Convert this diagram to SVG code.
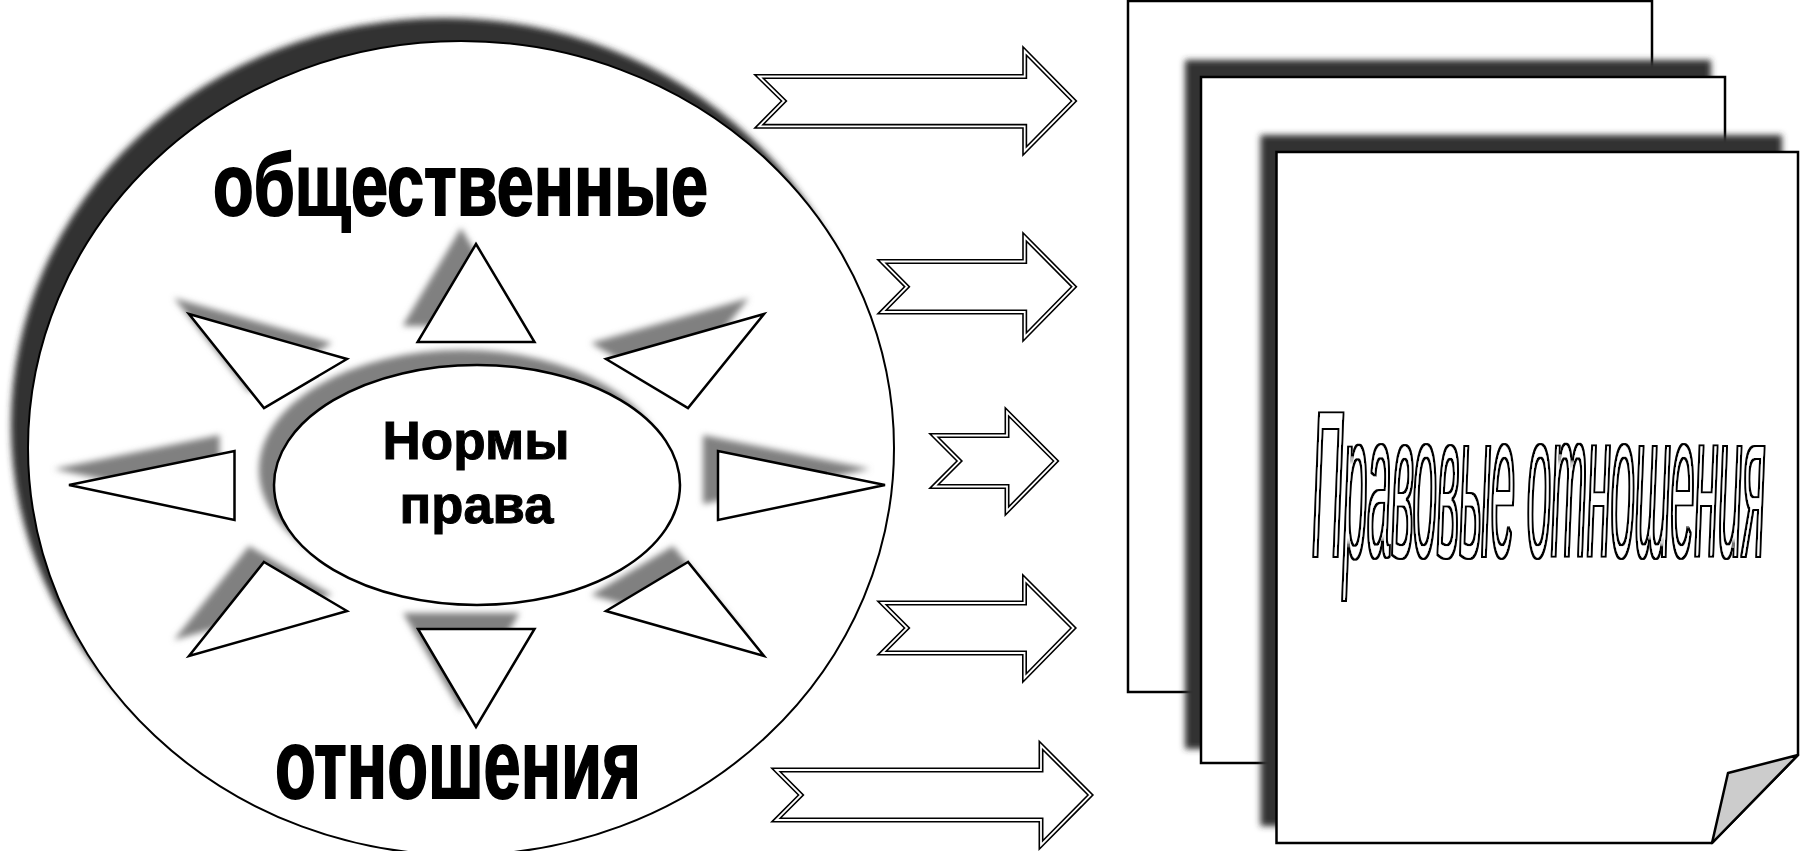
<svg xmlns="http://www.w3.org/2000/svg" width="1806" height="851" viewBox="0 0 1806 851">
<style>
.s{fill:#fff;stroke:#000;stroke-width:2.5}
.t{font-family:"Liberation Sans",Arial,sans-serif;font-weight:700;fill:#000;stroke:#000;text-anchor:middle}
.ao{fill:#fff;stroke:#000;stroke-width:5;stroke-miterlimit:10}
.ai{fill:none;stroke:#fff;stroke-width:1.8;stroke-miterlimit:10}
</style>
<defs>
<filter id="b" x="-20%" y="-20%" width="140%" height="140%"><feGaussianBlur stdDeviation="3"/></filter>
<filter id="o" filterUnits="userSpaceOnUse" x="1290" y="390" width="500" height="225">
<feMorphology in="SourceAlpha" operator="dilate" radius="1" result="d"/>
<feMorphology in="SourceGraphic" operator="erode" radius="1" result="e"/>
<feMerge><feMergeNode in="d"/><feMergeNode in="e"/></feMerge>
</filter>
<polygon id="a1" points="759,76.5 784,101 759,126.3 1024.7,126.3 1024.7,151 1074,101 1024.7,51 1024.7,76.5"/>
<polygon id="a2" points="882,261.5 907,286.7 882,312 1024.7,312 1024.7,337 1074,286.7 1024.7,237 1024.7,261.5"/>
<polygon id="a3" points="934,435.5 959.500,461 934,486.500 1007,486.500 1007,511 1056,461 1007,412 1007,435.5"/>
<polygon id="a4" points="882,603 907,628 882,653 1024.5,653 1024.5,678 1073.5,628 1024.5,579 1024.5,603"/>
<polygon id="a5" points="776,770 801,795 776,820 1041,820 1041,845 1090.5,795 1041,745.5 1041,770"/>
<path id="p3" d="M1276.500,152H1798V755L1712,843H1276.500Z"/>
</defs>
<rect width="1806" height="851" fill="#fff"/>
<g id="society">
<ellipse cx="444" cy="425" rx="433" ry="407" fill="#333" filter="url(#b)"/>
<ellipse class="s" style="stroke-width:2" cx="461" cy="448" rx="433" ry="407"/>
<text class="t" x="460.500" y="214.500" font-size="88" stroke-width="2" textLength="495" lengthAdjust="spacingAndGlyphs">общественные</text>
<text class="t" x="458" y="797.500" font-size="98" stroke-width="2" textLength="366" lengthAdjust="spacingAndGlyphs">отношения</text>
</g>
<g id="rays">
<g fill="#808080" filter="url(#b)">
<polygon transform="translate(-15,-16)" points="476,244 534.500,342 417.600,342"/>
<polygon transform="translate(-15,-16)" points="189,314 347,359 264,408"/>
<polygon transform="translate(-15,-16)" points="764,314 606,359 688,408"/>
<polygon transform="translate(-15,-16)" points="69,485 234.500,451 234.500,520"/>
<polygon transform="translate(-15,-16)" points="885,485 718,451 718,520"/>
<polygon transform="translate(-15,-16)" points="264,562 347,611 189,656"/>
<polygon transform="translate(-15,-16)" points="688,562 606,611 764,656"/>
<polygon transform="translate(-15,-16)" points="418,629 534.500,629 476,727"/>
</g>
<polygon class="s" points="476,244 534.500,342 417.600,342"/>
<polygon class="s" points="189,314 347,359 264,408"/>
<polygon class="s" points="764,314 606,359 688,408"/>
<polygon class="s" points="69,485 234.500,451 234.500,520"/>
<polygon class="s" points="885,485 718,451 718,520"/>
<polygon class="s" points="264,562 347,611 189,656"/>
<polygon class="s" points="688,562 606,611 764,656"/>
<polygon class="s" points="418,629 534.500,629 476,727"/>
</g>
<g id="norms">
<ellipse cx="462" cy="470" rx="203" ry="120" fill="#808080" filter="url(#b)"/>
<ellipse class="s" cx="477" cy="485" rx="203" ry="120"/>
<text class="t" x="476" y="459" font-size="54" stroke-width="1" textLength="187" lengthAdjust="spacingAndGlyphs">Нормы</text>
<text class="t" x="476.500" y="523" font-size="54" stroke-width="1" textLength="154" lengthAdjust="spacingAndGlyphs">права</text>
</g>
<g id="connectors">
<use href="#a1" class="ao"/><use href="#a1" class="ai"/>
<use href="#a2" class="ao"/><use href="#a2" class="ai"/>
<use href="#a3" class="ao"/><use href="#a3" class="ai"/>
<use href="#a4" class="ao"/><use href="#a4" class="ai"/>
<use href="#a5" class="ao"/><use href="#a5" class="ai"/>
</g>
<g id="pages">
<rect class="s" x="1128" y="1" width="524" height="691"/>
<rect x="1185" y="60" width="526" height="689" fill="#333" filter="url(#b)"/>
<rect class="s" x="1201" y="77" width="524" height="686"/>
<use href="#p3" transform="translate(-16,-17)" fill="#333" filter="url(#b)"/>
<use href="#p3" class="s"/>
<path d="M1712,843L1728,773L1798,755Z" fill="#ccc" stroke="#000" stroke-width="2.500" stroke-linejoin="round"/>
<g filter="url(#o)">
<text transform="translate(1312,557) scale(0.2055,1)" font-family="Liberation Sans, Arial, sans-serif" font-style="italic" font-size="210" fill="#fff">Правовые отношения</text>
</g>
</g>
</svg>
